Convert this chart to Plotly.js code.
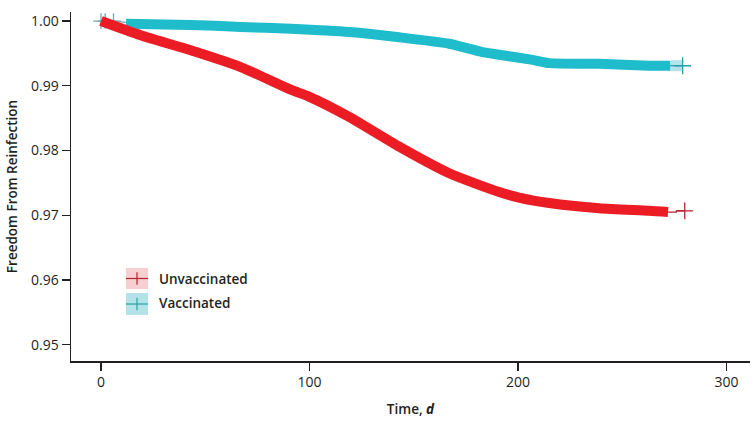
<!DOCTYPE html>
<html>
<head>
<meta charset="utf-8">
<script src="https://cdn.plot.ly/plotly-3.0.1.min.js"></script>
<style>
html,body{margin:0;padding:0;background:#fff;}
#chart{width:755px;height:426px;}
</style>
</head>
<body>
<div id="chart"></div>
<script>
// ---- data ----
const unvaxDays = [0, 19, 43, 67, 91, 100, 119, 143, 167, 191, 201, 215, 239, 263, 272];
const unvaxSurv = [1.0000, 0.9978, 0.9955, 0.9929, 0.9894, 0.9883, 0.9852, 0.9806, 0.9765, 0.9736, 0.9727, 0.9719, 0.9711, 0.9707, 0.9705];
const unvaxTailDays = [272, 276, 276, 280];
const unvaxTailSurv = [0.9705, 0.9705, 0.9707, 0.9707];
const unvaxEndDay = [280];
const unvaxEndSurv = [0.9707];

const vaxStartDays = [0, 2, 6, 12];
const vaxStartSurv = [1.0000, 1.0000, 1.0000, 0.9998];
const vaxDays = [12, 43, 67, 91, 119, 143, 167, 183, 191, 207, 215, 239, 263, 273];
const vaxSurv = [0.9996, 0.9994, 0.9991, 0.9988, 0.9983, 0.9975, 0.9965, 0.9952, 0.9948, 0.9940, 0.9935, 0.9934, 0.9931, 0.9931];
const vaxTailDays = [273, 279];
const vaxTailSurv = [0.9931, 0.9931];
const vaxEndDay = [279];
const vaxEndSurv = [0.9931];

const xTicks = [0, 100, 200, 300];
const yTicks = [0.95, 0.96, 0.97, 0.98, 0.99, 1.00];
const groupNames = ["Unvaccinated", "Vaccinated"];

const RED = "#ec1c24", RED_DARK = "#b0262c", RED_LIGHT = "#f8cfd0";
const CYAN = "#1fbccb", CYAN_DARK = "#2a9fa9", CYAN_LIGHT = "#b3e3e8";
const GREY_TEAL = "#6aaab0";
const INK = "#231f20";
const FONT = "Open Sans, Noto Sans, sans-serif";

function cross(color, size) {
  return {symbol: "cross-thin-open", size: size, color: color, line: {color: color, width: 1.3}};
}

const traces = [
  {x: vaxTailDays, y: vaxTailSurv, mode: "lines", line: {color: CYAN_LIGHT, width: 11}, hoverinfo: "skip"},
  {x: vaxStartDays, y: vaxStartSurv, mode: "lines", line: {color: GREY_TEAL, width: 1.2}, hoverinfo: "skip"},
  {x: vaxStartDays.slice(0,3), y: vaxStartSurv.slice(0,3), mode: "markers", marker: cross(GREY_TEAL, 11), hoverinfo: "skip"},
  {x: vaxDays, y: vaxSurv, mode: "lines", line: {color: CYAN, width: 10, shape: "spline", smoothing: 0.6}, name: groupNames[1]},
  {x: vaxTailDays, y: vaxTailSurv, mode: "lines", line: {color: CYAN_DARK, width: 1.2}, hoverinfo: "skip"},
  {x: vaxEndDay, y: vaxEndSurv, mode: "markers", marker: cross(CYAN_DARK, 12), hoverinfo: "skip"},

  {x: unvaxDays, y: unvaxSurv, mode: "lines", line: {color: RED, width: 10, shape: "spline", smoothing: 0.6}, name: groupNames[0]},
  {x: unvaxTailDays, y: unvaxTailSurv, mode: "lines", line: {color: RED_DARK, width: 1.2}, hoverinfo: "skip"},
  {x: unvaxEndDay, y: unvaxEndSurv, mode: "markers", marker: cross(RED_DARK, 12), hoverinfo: "skip"}
];

// custom legend (paper coordinates)
const legendItems = [
  {name: groupNames[0], fill: RED_LIGHT, ink: RED_DARK, y0: 0.2063, y1: 0.2665, ty: 0.235},
  {name: groupNames[1], fill: CYAN_LIGHT, ink: CYAN_DARK, y0: 0.1318, y1: 0.1948, ty: 0.166}
];
const shapes = [], annotations = [];
legendItems.forEach(it => {
  const x0 = 0.081, x1 = 0.1134, xm = (x0 + x1) / 2, ym = (it.y0 + it.y1) / 2;
  shapes.push({type: "rect", xref: "paper", yref: "paper", x0: x0, x1: x1, y0: it.y0, y1: it.y1, fillcolor: it.fill, line: {width: 0}, layer: "above"});
  shapes.push({type: "line", xref: "paper", yref: "paper", x0: x0, x1: x1, y0: ym, y1: ym, line: {color: it.ink, width: 1.2}, layer: "above"});
  shapes.push({type: "line", xref: "paper", yref: "paper", x0: xm, x1: xm, y0: ym - 0.018, y1: ym + 0.018, line: {color: it.ink, width: 1.2}, layer: "above"});
  annotations.push({xref: "paper", yref: "paper", x: 0.127, y: it.ty, xanchor: "left", yanchor: "middle",
    text: it.name, showarrow: false, font: {family: FONT, size: 13.5, color: INK, weight: 600}});
});

const layout = {
  width: 755, height: 426,
  margin: {l: 71, r: 5, t: 12, b: 65},
  paper_bgcolor: "#fff", plot_bgcolor: "#fff",
  showlegend: false,
  font: {family: FONT, color: INK},
  xaxis: {
    range: [-14.4, 311.3], tickvals: xTicks, ticktext: xTicks.map(String),
    showgrid: false, zeroline: false, showline: true, linecolor: INK, linewidth: 1.5,
    ticks: "outside", ticklen: 8, tickwidth: 1.3, tickcolor: INK,
    tickfont: {family: FONT, size: 14, color: INK},
    title: {text: "Time, <b><i>d</i></b>", font: {family: FONT, size: 13.5, color: INK, weight: 600}, standoff: 14}
  },
  yaxis: {
    range: [0.9475, 1.0014], tickvals: yTicks, ticktext: yTicks.map(v => v.toFixed(2)),
    showgrid: false, zeroline: false, showline: true, linecolor: INK, linewidth: 1.5,
    ticks: "outside", ticklen: 8, tickwidth: 1.3, tickcolor: INK,
    tickfont: {family: FONT, size: 14, color: INK},
    title: {text: "Freedom From Reinfection", font: {family: FONT, size: 13.5, color: INK, weight: 600}, standoff: 10}
  },
  shapes: shapes,
  annotations: annotations
};

Plotly.newPlot("chart", traces, layout, {displayModeBar: false, staticPlot: true});
</script>
</body>
</html>
